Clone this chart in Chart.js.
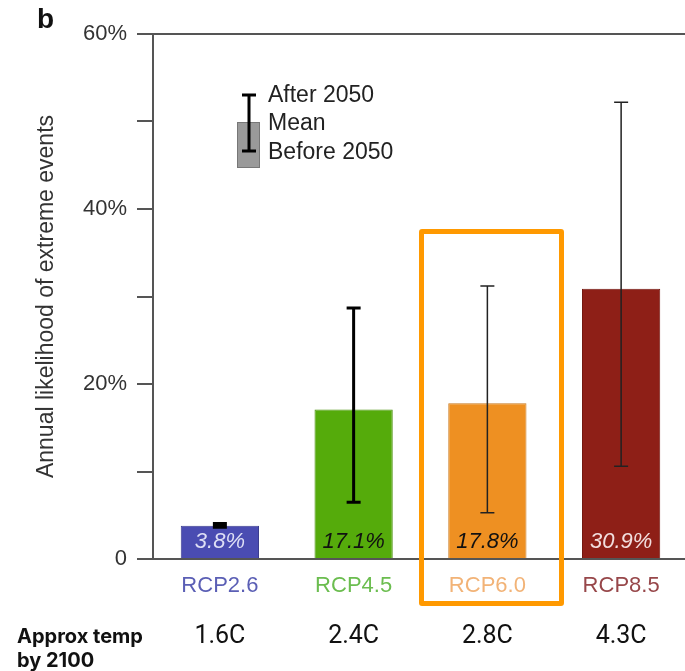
<!DOCTYPE html>
<html>
<head>
<meta charset="utf-8">
<script src="https://cdn.jsdelivr.net/npm/chart.js@4.4.1/dist/chart.umd.min.js"></script>
<style>
    html, body { margin: 0; padding: 0; background: #fff; overflow: hidden; }
    #wrap { position: relative; width: 688px; height: 671px; }
    #highlight {
        position: absolute; left: 419px; top: 229px; width: 145px; height: 377px;
        box-sizing: border-box; border: 5px solid #ff9900; border-radius: 3px;
        pointer-events: none;
    }
</style>
</head>
<body>
<div id="wrap">
    <canvas id="chart" width="688" height="671"></canvas>
    <div id="highlight"></div>
</div>
<script>
// --- dados ---
const scenarios = ['RCP2.6', 'RCP4.5', 'RCP6.0', 'RCP8.5'];
const meanValues = [3.8, 17.1, 17.8, 30.9];
const errBefore = [3.7, 6.5, 5.3, 10.6];   // extremo inferior (antes de 2050)
const errAfter = [4.0, 28.7, 31.2, 52.2];  // extremo superior (depois de 2050)
const approxTemps = ['1.6C', '2.4C', '2.8C', '4.3C'];
const yTicks = [0, 10, 20, 30, 40, 50, 60];

// --- estilos ---
const barColors = ['#4a4cb2', '#55ab0b', '#ee9022', '#8e1f17'];
const barBorders = ['#3b3d8f', '#478f08', '#c9781c', '#731810'];
const labelColors = ['#5b5fb5', '#6bbd4f', '#f2b377', '#97474a'];
const valueColors = ['#dedff5', '#111111', '#111111', '#f2dede'];
const errWidths = [4, 3, 1.5, 1.5];
const axisColor = '#555';
const helv = '"Liberation Sans", Arial, sans-serif';

// desenha barras de erro, valores, legenda e textos extras
const extrasPlugin = {
    id: 'extras',
    afterDatasetsDraw(chart) {
        const { ctx, chartArea, scales: { x, y } } = chart;
        ctx.save();

        // linha superior do quadro
        ctx.strokeStyle = axisColor;
        ctx.lineWidth = 2;
        ctx.beginPath();
        ctx.moveTo(chartArea.left - 16, chartArea.top);
        ctx.lineTo(chartArea.right, chartArea.top);
        ctx.stroke();

        // barras de erro
        scenarios.forEach((s, i) => {
            const cx = x.getPixelForValue(i);
            const yLo = y.getPixelForValue(errBefore[i]);
            const yHi = y.getPixelForValue(errAfter[i]);
            ctx.strokeStyle = i < 2 ? '#000' : '#222';
            ctx.lineWidth = errWidths[i];
            ctx.beginPath();
            ctx.moveTo(cx, yLo); ctx.lineTo(cx, yHi);
            ctx.moveTo(cx - 7, yLo); ctx.lineTo(cx + 7, yLo);
            ctx.moveTo(cx - 7, yHi); ctx.lineTo(cx + 7, yHi);
            ctx.stroke();
        });

        // valores dentro das barras
        ctx.font = 'italic 22px ' + helv;
        ctx.textAlign = 'center';
        ctx.textBaseline = 'middle';
        meanValues.forEach((v, i) => {
            ctx.fillStyle = valueColors[i];
            ctx.fillText(v.toFixed(1) + '%', x.getPixelForValue(i), chartArea.bottom - 17);
        });

        // legenda
        ctx.fillStyle = '#9a9a9a';
        ctx.strokeStyle = '#777';
        ctx.lineWidth = 1;
        ctx.fillRect(237, 122, 23, 46);
        ctx.strokeRect(237.5, 122.5, 22, 45);
        ctx.strokeStyle = '#000';
        ctx.lineWidth = 3;
        ctx.beginPath();
        ctx.moveTo(249, 95); ctx.lineTo(249, 151);
        ctx.moveTo(242, 95); ctx.lineTo(256, 95);
        ctx.moveTo(242, 151); ctx.lineTo(256, 151);
        ctx.stroke();
        ctx.fillStyle = '#222';
        ctx.font = '23px ' + helv;
        ctx.textAlign = 'left';
        ctx.fillText('After 2050', 268, 96);
        ctx.fillText('Mean', 268, 124);
        ctx.fillText('Before 2050', 268, 153);

        // rótulo do painel
        ctx.font = 'bold 28px ' + helv;
        ctx.fillStyle = '#111';
        ctx.fillText('b', 37, 20);

        // temperatura aproximada em 2100
        ctx.font = 'bold 20px Inter, "Noto Sans", sans-serif';
        ctx.fillText('Approx temp', 17, 637);
        ctx.fillText('by 2100', 17, 661);
        ctx.font = '25px Roboto, "Noto Sans", sans-serif';
        ctx.textAlign = 'center';
        approxTemps.forEach((t, i) => {
            ctx.fillText(t, x.getPixelForValue(i), 637);
        });

        ctx.restore();
    }
};

new Chart(document.getElementById('chart'), {
    type: 'bar',
    data: {
        labels: scenarios,
        datasets: [{
            data: meanValues,
            backgroundColor: barColors,
            borderColor: barBorders,
            borderWidth: 1,
            categoryPercentage: 1,
            barPercentage: 0.585,
        }]
    },
    options: {
        responsive: false,
        animation: false,
        events: [],
        layout: { padding: { left: 33, top: 34, right: 0, bottom: 72 } },
        plugins: { legend: { display: false }, tooltip: { enabled: false } },
        scales: {
            x: {
                grid: { display: false },
                border: { color: axisColor, width: 2 },
                ticks: {
                    padding: 6,
                    font: { family: helv, size: 22 },
                    color: ctx => labelColors[ctx.index],
                },
                afterFit: scale => { scale.height = 40; },
            },
            y: {
                min: 0,
                max: 60,
                afterBuildTicks: scale => { scale.ticks = yTicks.map(v => ({ value: v })); },
                grid: { drawOnChartArea: false, tickLength: 16, color: axisColor, lineWidth: 2 },
                border: { color: axisColor, width: 2 },
                ticks: {
                    padding: 10,
                    color: '#333',
                    font: { family: helv, size: 22 },
                    callback: v => v === 0 ? '0' : (v % 20 === 0 ? v + '%' : ''),
                },
                title: {
                    display: true,
                    text: 'Annual likelihood of extreme events',
                    color: '#333',
                    font: { family: helv, size: 23 },
                    padding: { top: 0, bottom: 4 },
                },
                afterFit: scale => { scale.width = 120; },
            }
        }
    },
    plugins: [extrasPlugin]
});
</script>
</body>
</html>
